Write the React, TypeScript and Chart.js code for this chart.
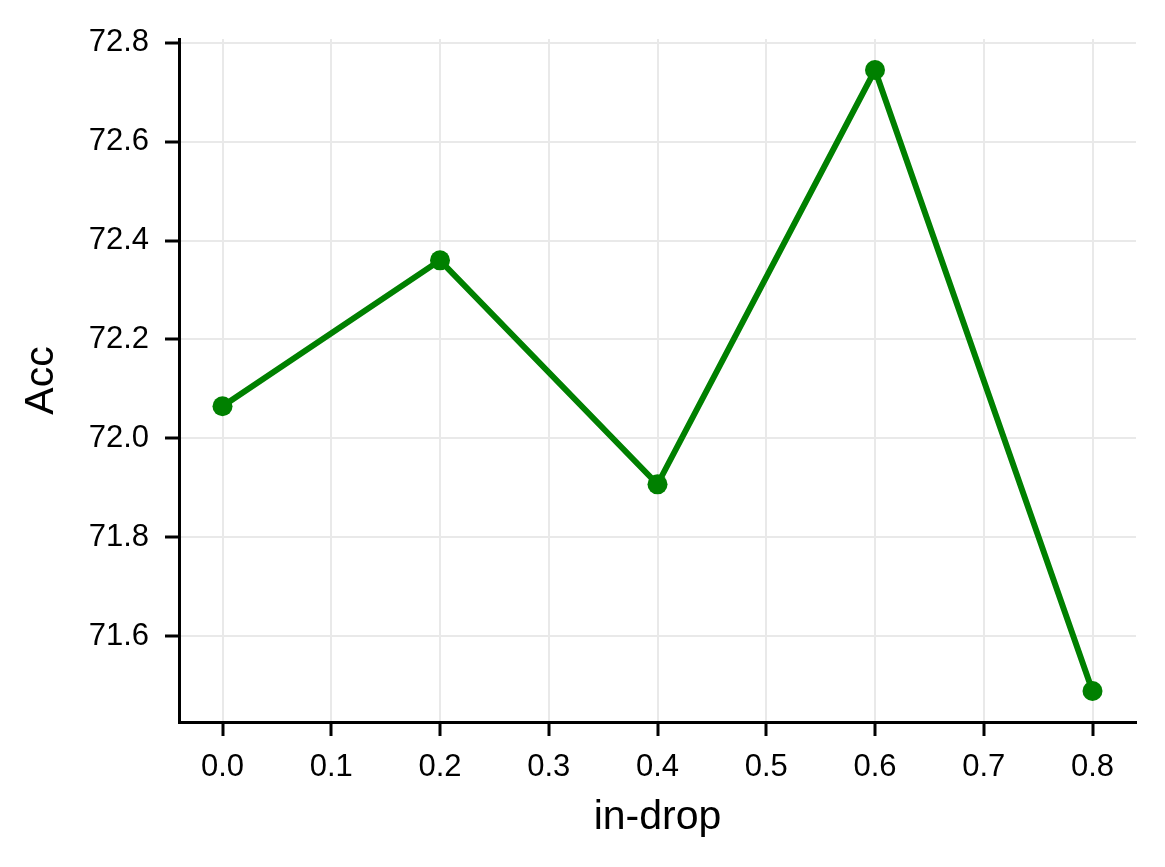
import React, { useEffect, useRef } from "react";
import { Chart, registerables } from "chart.js";

Chart.register(...registerables);

const X_VALUES = [0.0, 0.2, 0.4, 0.6, 0.8];
const ACC_VALUES = [72.065, 72.36, 71.907, 72.745, 71.489];
const X_TICKS = [0.0, 0.1, 0.2, 0.3, 0.4, 0.5, 0.6, 0.7, 0.8];
const Y_TICKS = [71.6, 71.8, 72.0, 72.2, 72.4, 72.6, 72.8];
const X_TITLE = "in-drop";
const Y_TITLE = "Acc";

const FONT = "'Liberation Sans', Arial, Helvetica, sans-serif";
const GREEN = "#008000";

export default function App() {
  const ref = useRef<HTMLCanvasElement | null>(null);

  useEffect(() => {
    if (!ref.current) return;
    const xMin = Math.min(...X_VALUES);
    const xMax = Math.max(...X_VALUES);
    const yMin = Math.min(...ACC_VALUES);
    const yMax = Math.max(...ACC_VALUES);
    const xm = (xMax - xMin) * 0.05;
    const ym = (yMax - yMin) * 0.05;

    const chart = new Chart(ref.current, {
      type: "line",
      data: {
        datasets: [
          {
            data: X_VALUES.map((x, i) => ({ x, y: ACC_VALUES[i] })),
            borderColor: GREEN,
            backgroundColor: GREEN,
            borderWidth: 6,
            pointRadius: 10,
            pointHoverRadius: 10,
            pointBackgroundColor: GREEN,
            pointBorderWidth: 0,
            tension: 0,
            fill: false,
          },
        ],
      },
      options: {
        animation: false,
        responsive: true,
        maintainAspectRatio: false,
        layout: { padding: { left: 0, top: 39, right: 29, bottom: 0 } },
        plugins: {
          legend: { display: false },
          tooltip: { enabled: false },
        },
        scales: {
          x: {
            type: "linear",
            min: xMin - xm,
            max: xMax + xm,
            afterBuildTicks: (axis: any) => {
              axis.ticks = X_TICKS.map((v) => ({ value: v }));
            },
            afterFit: (scale: any) => {
              scale.height = 145;
            },
            border: { display: true, color: "#000", width: 3 },
            grid: {
              color: "#e9e9e9",
              lineWidth: 2,
              tickColor: "#000",
              tickLength: 14,
              tickWidth: 3,
            },
            ticks: {
              color: "#000",
              font: { family: FONT, size: 31 },
              padding: 13,
              maxRotation: 0,
              autoSkip: false,
              callback: (v: any) => Number(v).toFixed(1),
            },
            title: {
              display: true,
              text: X_TITLE,
              color: "#000",
              font: { family: FONT, size: 41 },
              padding: { top: 0, bottom: 25 },
            },
          },
          y: {
            type: "linear",
            min: yMin - ym,
            max: yMax + ym,
            afterBuildTicks: (axis: any) => {
              axis.ticks = Y_TICKS.map((v) => ({ value: v }));
            },
            afterFit: (scale: any) => {
              scale.width = 179;
            },
            border: { display: true, color: "#000", width: 3 },
            grid: {
              color: "#e9e9e9",
              lineWidth: 2,
              tickColor: "#000",
              tickLength: 14,
              tickWidth: 3,
            },
            ticks: {
              color: "#000",
              font: { family: FONT, size: 31 },
              padding: 16,
              autoSkip: false,
              callback: (v: any) => Number(v).toFixed(1),
            },
            title: {
              display: true,
              text: Y_TITLE,
              color: "#000",
              font: { family: FONT, size: 41 },
              padding: { top: 17, bottom: 0 },
            },
          },
        },
      },
    });
    return () => chart.destroy();
  }, []);

  return (
    <div
      style={{
        position: "fixed",
        left: 0,
        top: 0,
        width: 1165,
        height: 867,
        background: "#fff",
      }}
    >
      <canvas ref={ref} />
    </div>
  );
}
